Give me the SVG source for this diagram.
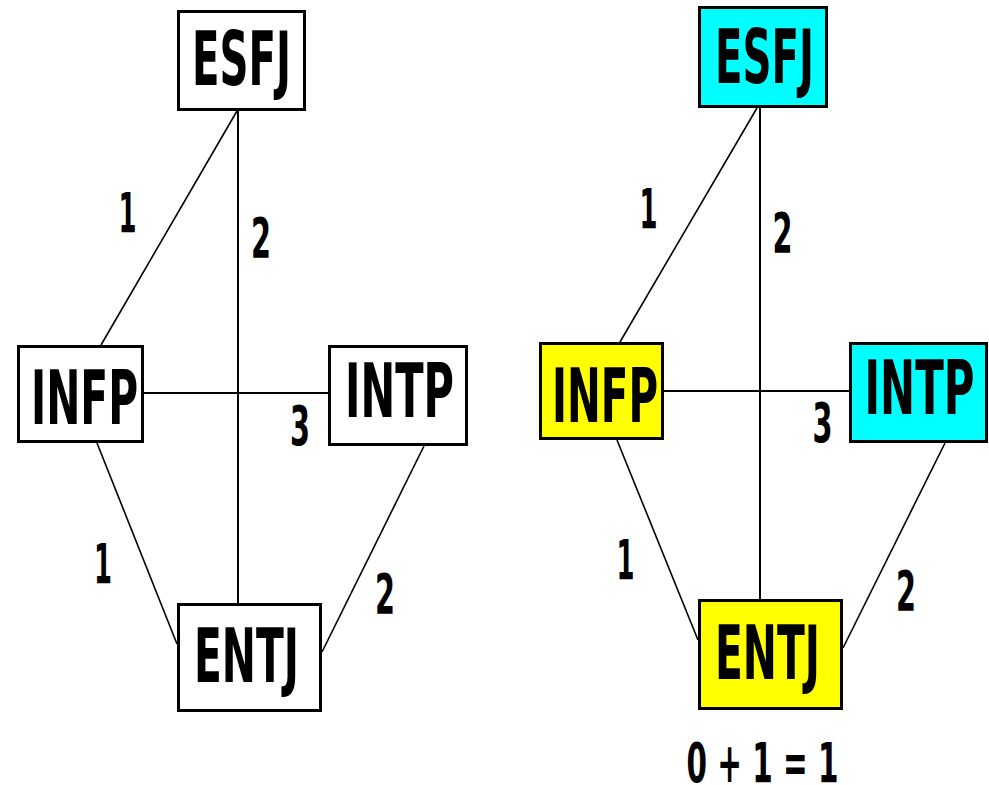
<svg xmlns="http://www.w3.org/2000/svg" width="989" height="785" viewBox="0 0 989 785">
<style>
.box{stroke:#000;stroke-width:3;fill:#fff}
.y{fill:#ffff00}
.c{fill:#00ffff}
.ln{stroke:#000;stroke-width:2;fill:none}
.dg{stroke:#000;stroke-width:1.6;fill:none}
.t{font-family:"DejaVu Sans Condensed","DejaVu Sans",sans-serif;font-weight:bold;font-size:75px;text-anchor:middle;fill:#000}
.n{font-family:"DejaVu Sans Condensed","DejaVu Sans",sans-serif;font-weight:bold;font-size:55px;text-anchor:middle;fill:#000}
</style>
<rect width="989" height="785" fill="#fff"/>
<g id="connectors">
<line class="dg" x1="237" y1="111" x2="101" y2="345"/>
<line class="ln" x1="238" y1="111" x2="238" y2="603"/>
<line class="ln" x1="144" y1="393" x2="328" y2="393"/>
<line class="dg" x1="97" y1="443" x2="177" y2="644"/>
<line class="dg" x1="424" y1="446" x2="322" y2="652"/>
<line class="dg" x1="757" y1="108" x2="620" y2="342"/>
<line class="ln" x1="760" y1="108" x2="760" y2="599"/>
<line class="ln" x1="664" y1="391" x2="849" y2="391"/>
<line class="dg" x1="617" y1="440" x2="698" y2="640"/>
<line class="dg" x1="945" y1="443" x2="843" y2="648"/>
</g>
<g id="labels">
<text class="n" x="127.5" y="232" textLength="18" lengthAdjust="spacingAndGlyphs">1</text>
<text class="n" x="261" y="257" textLength="20" lengthAdjust="spacingAndGlyphs">2</text>
<text class="n" x="300" y="445" textLength="20" lengthAdjust="spacingAndGlyphs">3</text>
<text class="n" x="103" y="583" textLength="18" lengthAdjust="spacingAndGlyphs">1</text>
<text class="n" x="385" y="613" textLength="20" lengthAdjust="spacingAndGlyphs">2</text>
<text class="n" x="648.5" y="228" textLength="18" lengthAdjust="spacingAndGlyphs">1</text>
<text class="n" x="782.5" y="252" textLength="20" lengthAdjust="spacingAndGlyphs">2</text>
<text class="n" x="822.5" y="442" textLength="20" lengthAdjust="spacingAndGlyphs">3</text>
<text class="n" x="625.5" y="579" textLength="18" lengthAdjust="spacingAndGlyphs">1</text>
<text class="n" x="906" y="610" textLength="20" lengthAdjust="spacingAndGlyphs">2</text>
<text class="n" x="762.5" y="782" font-size="55" textLength="152" lengthAdjust="spacingAndGlyphs">0 + 1 = 1</text>
</g>
<g id="esfj-left"><rect class="box" x="178.5" y="11.5" width="126" height="98"/><text class="t" x="241.5" y="85" textLength="99" lengthAdjust="spacingAndGlyphs">ESFJ</text></g>
<g id="infp-left"><rect class="box" x="18.5" y="346.5" width="124" height="95"/><text class="t" x="84.5" y="424" textLength="107" lengthAdjust="spacingAndGlyphs">INFP</text></g>
<g id="intp-left"><rect class="box" x="329.5" y="346.5" width="137" height="98"/><text class="t" x="399.5" y="417" textLength="109" lengthAdjust="spacingAndGlyphs">INTP</text></g>
<g id="entj-left"><rect class="box" x="178.5" y="604.5" width="142" height="106"/><text class="t" x="246.5" y="682" textLength="105" lengthAdjust="spacingAndGlyphs">ENTJ</text></g>
<g id="esfj-right"><rect class="box c" x="699.5" y="7.5" width="127" height="99"/><text class="t" x="764.5" y="83" textLength="99" lengthAdjust="spacingAndGlyphs">ESFJ</text></g>
<g id="infp-right"><rect class="box y" x="540.5" y="343.5" width="122" height="95"/><text class="t" x="605" y="422" textLength="106" lengthAdjust="spacingAndGlyphs">INFP</text></g>
<g id="intp-right"><rect class="box c" x="850.5" y="343.5" width="136" height="98"/><text class="t" x="919.5" y="414" textLength="110" lengthAdjust="spacingAndGlyphs">INTP</text></g>
<g id="entj-right"><rect class="box y" x="699.5" y="600.5" width="142" height="108"/><text class="t" x="767.5" y="679" textLength="105" lengthAdjust="spacingAndGlyphs">ENTJ</text></g>
</svg>
